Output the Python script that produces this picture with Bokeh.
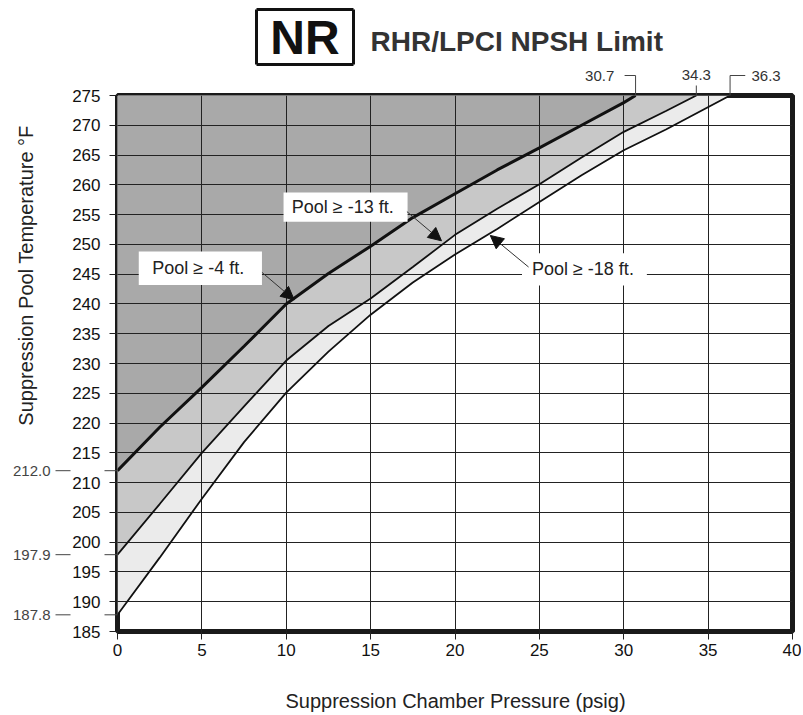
import math
from bokeh.plotting import figure
from bokeh.models import Arrow, NormalHead
from bokeh.core.properties import value
from bokeh.embed import file_html
from bokeh.resources import INLINE

# ---------------- data ----------------
press_4 = [0, 2.5, 5, 7.5, 10, 12.5, 15, 17.5, 20, 22.5, 25, 27.5, 30, 30.7]
temp_4 = [212.0, 219.3, 226.0, 232.9, 240.0, 245.1, 249.7, 254.5, 258.5, 262.5, 266.2, 270.0, 273.8, 275.0]

press_13 = [0, 2.5, 5, 7.5, 10, 12.5, 15, 17.5, 20, 22.5, 25, 27.5, 30, 32.5, 34.3]
temp_13 = [197.9, 206.4, 215.0, 222.8, 230.5, 236.3, 240.9, 246.2, 251.6, 256.0, 260.1, 264.6, 268.9, 272.4, 275.0]

press_18 = [0, 2.5, 5, 7.5, 10, 12.5, 15, 17.5, 20, 22.5, 25, 27.5, 30, 32.5, 36.3]
temp_18 = [187.8, 197.4, 207.3, 216.8, 225.1, 232.0, 238.2, 243.6, 248.3, 252.6, 257.1, 261.6, 265.8, 269.3, 275.0]

curve_labels = ["Pool \u2265 -4 ft.", "Pool \u2265 -13 ft.", "Pool \u2265 -18 ft."]
left_marks = [212.0, 197.9, 187.8]
top_marks = [30.7, 34.3, 36.3]
x_ticks = [0, 5, 10, 15, 20, 25, 30, 35, 40]
y_ticks = [185, 190, 195, 200, 205, 210, 215, 220, 225, 230, 235, 240, 245, 250,
           255, 260, 265, 270, 275]
title_text = "RHR/LPCI NPSH Limit"
badge_text = "NR"
x_title = "Suppression Chamber Pressure (psig)"
y_title = "Suppression Pool Temperature \u00b0F"

# ---------------- layout ----------------
W, H = 801, 713
L, T, FW, FH = 117, 95, 675, 536
X0, X1, Y0, Y1 = 0, 40, 185, 275
FONT = "Liberation Sans"


def dx(px):
    return X0 + (px - L) / FW * (X1 - X0)


def dy(py):
    return Y1 - (py - T) / FH * (Y1 - Y0)


p = figure(width=W, height=H, x_range=(X0, X1), y_range=(Y0, Y1),
           output_backend="svg", toolbar_location=None,
           min_border_left=L, min_border_right=W - L - FW,
           min_border_top=T, min_border_bottom=H - T - FH)
p.background_fill_color = "white"
p.border_fill_color = "white"
p.outline_line_color = "#1a1a1a"
p.outline_line_width = 5

# fills (layered from top-left corner down to each curve)
for xs, ys, col in [(press_18, temp_18, "#ebebeb"),
                    (press_13, temp_13, "#c8c8c8"),
                    (press_4, temp_4, "#a9a9a9")]:
    r = p.patch(xs + [X0], ys + [Y1], fill_color=col, line_color=None)
    r.level = "image"

# grid
p.xgrid.ticker = x_ticks
p.ygrid.ticker = y_ticks
p.grid.grid_line_color = "#222222"
p.grid.grid_line_width = 1

# curves
p.line(press_4, temp_4, line_color="#111111", line_width=3)
p.line(press_13, temp_13, line_color="#111111", line_width=1.8)
p.line(press_18, temp_18, line_color="#111111", line_width=1.8)

# axes
p.xaxis.ticker = x_ticks
p.yaxis.ticker = y_ticks
p.axis.axis_line_color = None
p.axis.major_tick_out = 8
p.axis.major_tick_in = 0
p.axis.minor_tick_out = 0
p.axis.minor_tick_in = 0
p.axis.major_tick_line_color = "#222222"
p.axis.major_label_text_font = FONT
p.axis.major_label_text_font_size = "17px"
p.axis.major_label_text_color = "#111111"
p.yaxis.major_label_standoff = 9
p.xaxis.major_label_standoff = 4

# annotation boxes with text
boxes = [  # left, right, top, bottom, text x
    (1.26, 8.56, 248.8, 243.2, 2.06),
    (9.84, 17.19, 258.7, 253.8, 10.33),
    (23.97, 31.37, 248.5, 243.1, 24.56),
]
p.quad(left=[b[0] for b in boxes], right=[b[1] for b in boxes],
       top=[b[2] for b in boxes], bottom=[b[3] for b in boxes],
       fill_color="white", line_color=None)
p.text(x=[b[4] for b in boxes], y=[(b[2] + b[3]) / 2 for b in boxes],
       text=curve_labels, text_font=value(FONT), text_font_size="18px",
       text_color="#222222", text_align="left", text_baseline="middle")

arrows = [
    (8.56, 245.3, 10.47, 240.7),
    (17.15, 255.5, 19.2, 250.6),
    (24.36, 246.2, 22.09, 251.5),
]
for xs_, ys_, xe, ye in arrows:
    p.add_layout(Arrow(end=NormalHead(size=13, fill_color="#111111", line_color="#111111"),
                       x_start=xs_, y_start=ys_, x_end=xe, y_end=ye,
                       line_color="#333333", line_width=1))


# ---- marks outside the frame: overlay-level glyphs are not clipped ----
def segs(x0, y0, x1, y1, color="#444444", width=1):
    r = p.segment(x0=x0, y0=y0, x1=x1, y1=y1, line_color=color, line_width=width)
    r.level = "overlay"


def texts(x, y, text, size, align, color="#333333", **kw):
    r = p.text(x=x, y=y, text=text, text_font=value(FONT), text_font_size=size,
               text_color=color, text_align=align, text_baseline="middle", **kw)
    r.level = "overlay"


# left side value markers
texts([dx(50)] * len(left_marks), left_marks, [f"{v:.1f}" for v in left_marks],
      "15px", "right", "#444444")
segs([dx(55)] * len(left_marks), left_marks, [dx(70)] * len(left_marks), left_marks)
segs([dx(104)] * len(left_marks), left_marks, [X0] * len(left_marks), left_marks)

# top value markers
yt = dy(75)
a, b, c = top_marks
texts([a - 1.26], [yt], [f"{a:.1f}"], "15px", "right")
texts([b], [dy(74)], [f"{b:.1f}"], "15px", "center")
texts([c + 1.27], [yt], [f"{c:.1f}"], "15px", "left")
segs([a - 0.65, a, b, c, c], [yt, yt, dy(85), yt, yt],
     [a, a, b, c + 0.9, c], [yt, Y1, Y1, yt, Y1])

# axis titles
texts([dx(455)], [dy(700)], [x_title], "20px", "center", "#222222")
texts([dx(25)], [dy(275)], [y_title], "20px", "center", "#222222", angle=math.pi / 2)

# title and NR badge
texts([dx(370)], [dy(41)], [title_text], "28px", "left", "#333333", text_font_style="bold")
texts([dx(304.5)], [dy(37)], [badge_text], "48px", "center", "#111111", text_font_style="bold")
bx0, bx1, by0, by1 = dx(256), dx(353), dy(9), dy(64)
segs([bx0, bx1, bx1, bx0], [by0, by0, by1, by1], [bx1, bx1, bx0, bx0], [by0, by1, by1, by0],
     "#111111", 3)

open("out.html", "w").write(file_html(p, INLINE))
